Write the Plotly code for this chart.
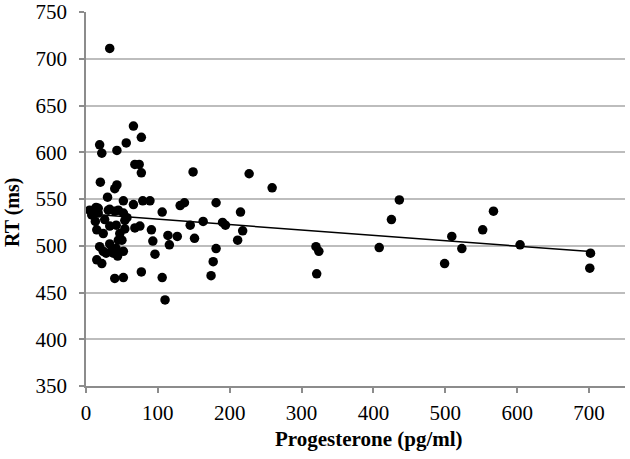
import numpy as np
import plotly.graph_objects as go

progesterone = [33, 66, 77, 19, 22, 43, 56, 68, 74, 77, 20, 40, 43, 30, 5, 14, 17, 33, 45, 52,
                66, 79, 89, 106, 131, 137, 149, 181, 215, 227, 259, 8, 17, 31, 40, 52, 13, 26, 54, 15,
                33, 54, 68, 75, 91, 24, 47, 42, 93, 96, 19, 33, 42, 50, 52, 24, 38, 44, 15, 22,
                40, 52, 77, 106, 110, 114, 127, 116, 145, 151, 163, 190, 194, 218, 211, 181, 177, 174, 320, 324,
                321, 408, 425, 436, 509, 499, 523, 552, 567, 604, 702, 701, 45, 28, 57, 36]
rt = [711, 628, 616, 608, 599, 602, 610, 587, 587, 578, 568, 561, 565, 552, 538, 541, 540, 539, 538, 548,
      544, 548, 548, 536, 543, 546, 579, 546, 536, 577, 562, 533, 535, 538, 537, 535, 526, 528, 527, 517,
      521, 518, 519, 521, 517, 513, 513, 522, 505, 491, 499, 502, 497, 506, 494, 494, 492, 489, 485, 481,
      465, 466, 472, 466, 442, 511, 510, 501, 522, 508, 526, 525, 522, 516, 506, 497, 483, 468, 499, 494,
      470, 498, 528, 549, 510, 481, 497, 517, 537, 501, 492, 476, 506, 492, 530, 495]

x_ticks = [0, 100, 200, 300, 400, 500, 600, 700]
y_ticks = [350, 400, 450, 500, 550, 600, 650, 700, 750]
x_title = "Progesterone (pg/ml)"
y_title = "RT (ms)"

xa = np.array(progesterone, dtype=float)
ya = np.array(rt, dtype=float)
slope, intercept = np.polyfit(xa, ya, 1)
trend_x = np.array([xa.min(), xa.max()])
trend_y = intercept + slope * trend_x

fig = go.Figure()
fig.add_trace(go.Scatter(x=trend_x, y=trend_y, mode="lines",
                         line=dict(color="black", width=1.5), hoverinfo="skip"))
fig.add_trace(go.Scatter(x=progesterone, y=rt, mode="markers",
                         marker=dict(color="black", size=9.5, line=dict(width=0))))

font_family = "Liberation Serif, Times New Roman, serif"
fig.update_layout(
    width=630, height=459,
    margin=dict(l=86, r=5, t=12, b=73),
    paper_bgcolor="white", plot_bgcolor="white",
    showlegend=False,
    font=dict(family=font_family, size=21, color="black"),
    annotations=[
        dict(text="<b>%s</b>" % x_title, xref="paper", yref="paper", x=0.525, y=-0.1417,
             xanchor="center", yanchor="middle", showarrow=False,
             font=dict(size=21, family=font_family, color="black")),
        dict(text="<b>%s</b>" % y_title, xref="paper", yref="paper", x=-0.1373, y=0.465,
             xanchor="center", yanchor="middle", showarrow=False, textangle=-90,
             font=dict(size=20, family=font_family, color="black")),
    ],
)
fig.update_xaxes(range=[0, 750], tickvals=x_ticks, ticktext=[str(v) for v in x_ticks],
                 showgrid=False, zeroline=False, showline=True, linecolor="#8c8c8c", linewidth=1.5,
                 ticks="outside", ticklen=5, tickcolor="#8c8c8c", tickwidth=1.5,
                 ticklabelstandoff=2, automargin=False, ticklabeloverflow="allow",
                 tickfont=dict(size=21, family=font_family))
fig.update_yaxes(range=[350, 750], tickvals=y_ticks, ticktext=[str(v) for v in y_ticks],
                 showgrid=True, gridcolor="#bdbdbd", gridwidth=1.5, zeroline=False,
                 showline=True, linecolor="#8c8c8c", linewidth=1.5,
                 ticks="outside", ticklen=5, tickcolor="#8c8c8c", tickwidth=1.5,
                 ticklabelstandoff=8, automargin=False, ticklabeloverflow="allow",
                 tickfont=dict(size=21, family=font_family))

fig.write_html("out.html", config={"displayModeBar": False},
               post_script="document.body.style.margin='0';")
